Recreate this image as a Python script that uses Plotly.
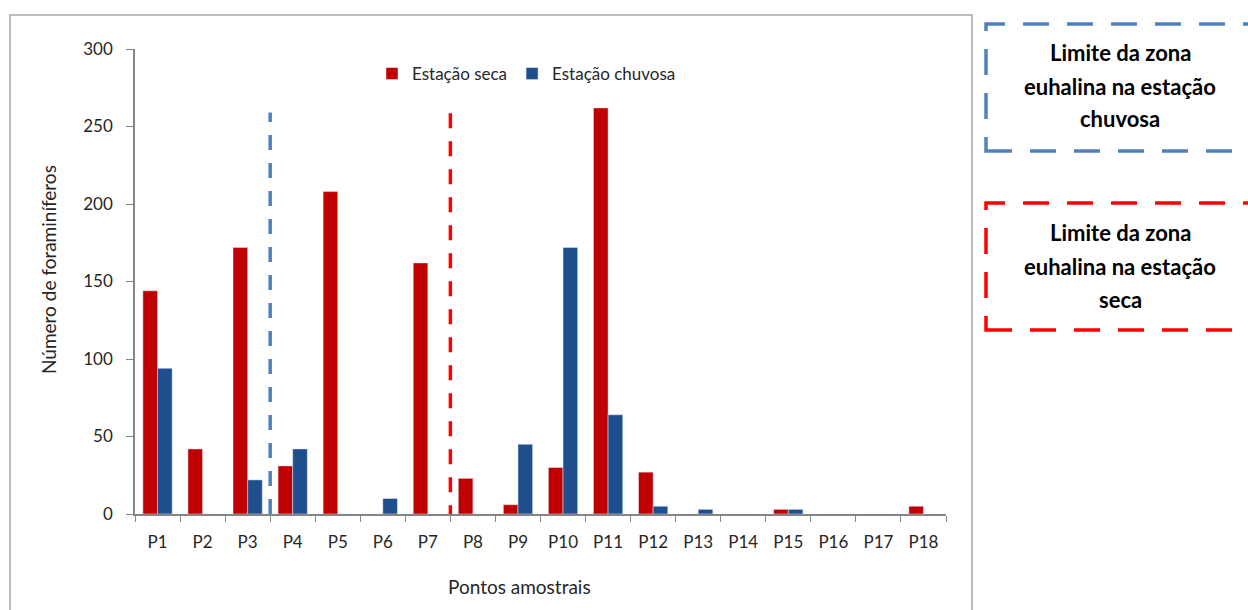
import plotly.graph_objects as go

categories = ["P1", "P2", "P3", "P4", "P5", "P6", "P7", "P8", "P9", "P10",
              "P11", "P12", "P13", "P14", "P15", "P16", "P17", "P18"]
seca = [144, 42, 172, 31, 208, 0, 162, 23, 6, 30, 262, 27, 0, 0, 3, 0, 0, 5]
chuvosa = [94, 0, 22, 42, 0, 10, 0, 0, 45, 172, 64, 5, 3, 0, 3, 0, 0, 0]
y_ticks = [0, 50, 100, 150, 200, 250, 300]
limit_chuvosa = 2.5   # between P3 and P4
limit_seca = 6.5      # between P7 and P8
box_chuvosa = ["Limite da zona", "euhalina na estação", "chuvosa"]
box_seca = ["Limite da zona", "euhalina na estação", "seca"]
x_title = "Pontos amostrais"
y_title = "Número de foraminíferos"

W, H = 1248, 610
L, R, T, B = 135, 946, 49, 514
pw, ph = R - L, B - T


def px(x):
    return (x - L) / pw


def py(y):
    return (B - y) / ph


FONT = "Lato, 'Open Sans', sans-serif"

fig = go.Figure()
fig.add_trace(go.Bar(x=categories, y=seca, name="Estação seca",
                     marker=dict(color="#C00000")))
fig.add_trace(go.Bar(x=categories, y=chuvosa, name="Estação chuvosa",
                     marker=dict(color="#1F4E8C")))

shapes = [
    dict(type="rect", xref="paper", yref="paper", x0=px(10), x1=px(972),
         y0=py(620), y1=py(15), line=dict(color="#A6A6A6", width=1.5),
         layer="below"),
    dict(type="line", xref="x", yref="y", x0=limit_chuvosa, x1=limit_chuvosa,
         y0=0, y1=259, line=dict(color="#4F81BD", width=3.5, dash="15px,13px")),
    dict(type="line", xref="x", yref="y", x0=limit_seca, x1=limit_seca,
         y0=-4, y1=262, line=dict(color="#FF0000", width=3.5, dash="15px,13px")),
    dict(type="rect", xref="paper", yref="paper", x0=px(986), x1=px(1262),
         y0=py(151), y1=py(24),
         line=dict(color="#4F81BD", width=3.5, dash="26px,18px")),
    dict(type="rect", xref="paper", yref="paper", x0=px(986), x1=px(1262),
         y0=py(330), y1=py(203),
         line=dict(color="#FF0000", width=3.5, dash="26px,18px")),
]

annotations = []
for lines, ys in ((box_chuvosa, (52, 86, 119)), (box_seca, (232, 266, 299))):
    for txt, yy in zip(lines, ys):
        annotations.append(dict(
            xref="paper", yref="paper", x=px(1120), y=py(yy),
            xanchor="center", yanchor="middle",
            text="<b>" + txt + "</b>", showarrow=False,
            font=dict(family=FONT, size=22, color="black")))

annotations.append(dict(xref="paper", yref="paper", x=px(519), y=py(586),
                        xanchor="center", yanchor="middle", text=x_title,
                        showarrow=False,
                        font=dict(family=FONT, size=19, color="#262626")))
annotations.append(dict(xref="paper", yref="paper", x=px(48), y=py(270),
                        xanchor="center", yanchor="middle", text=y_title,
                        textangle=-90, showarrow=False,
                        font=dict(family=FONT, size=19, color="#262626")))

fig.update_layout(
    width=W, height=H,
    margin=dict(l=L, r=W - R, t=T, b=H - B, pad=0),
    paper_bgcolor="white", plot_bgcolor="white",
    barmode="group", bargap=0.35, bargroupgap=0,
    font=dict(family=FONT, size=17, color="#262626"),
    shapes=shapes, annotations=annotations,
    legend=dict(orientation="h", x=px(372), y=py(74), xanchor="left",
                yanchor="middle", font=dict(size=17), bgcolor="rgba(0,0,0,0)",
                itemwidth=30, tracegroupgap=0),
    xaxis=dict(type="category", range=[-0.5, 17.5], showline=True,
               linecolor="#868686", linewidth=1.5, ticks="outside",
               tickson="boundaries", ticklen=6, tickcolor="#868686",
               ticklabelstandoff=12,
               showgrid=False, zeroline=False),
    yaxis=dict(range=[0, 300], tickvals=y_ticks, showline=True,
               linecolor="#868686", linewidth=1.5, ticks="outside",
               ticklen=7, tickcolor="#868686", showgrid=False,
               ticklabelstandoff=10, zeroline=False),
)

fig.write_html("out.html")
